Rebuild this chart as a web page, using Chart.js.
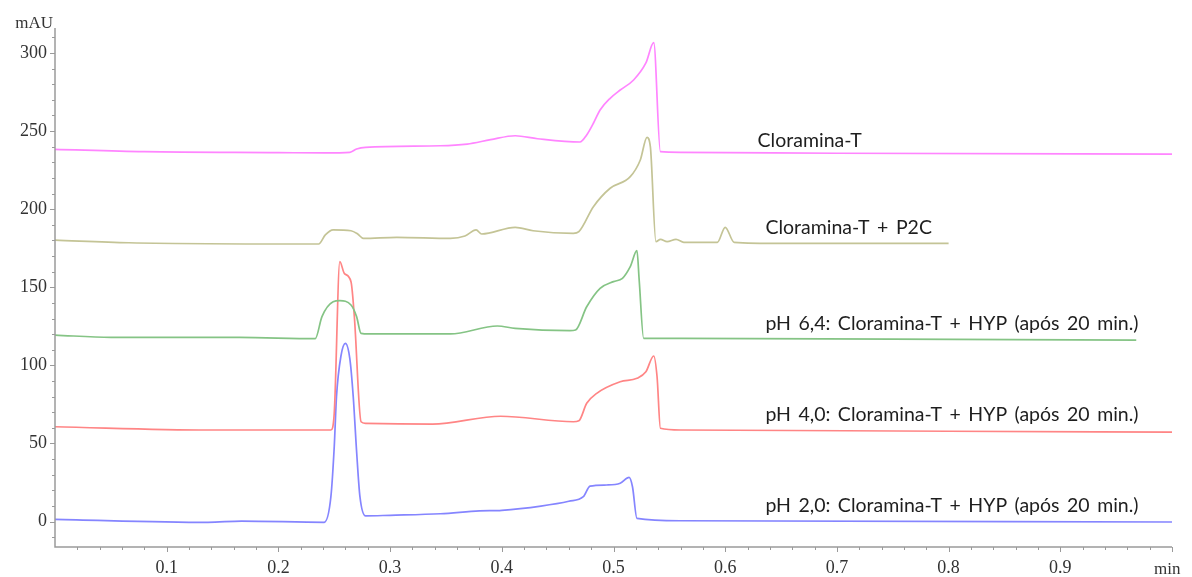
<!DOCTYPE html>
<html>
<head>
<meta charset="utf-8">
<script src="https://cdn.jsdelivr.net/npm/chart.js@4"></script>
<style>
  html, body { margin: 0; padding: 0; background: #ffffff; }
  #wrap { width: 1192px; height: 577px; }
</style>
</head>
<body>
<div id="wrap"><canvas id="c" width="1192" height="577"></canvas></div>
<script>
// Chromatogram traces: [time (min), absorbance (mAU)]
const cloraminaT = [
  [0, 238.3], [0.08, 236.8], [0.2, 236.2], [0.242, 236.0], [0.264, 236.4], [0.27, 238.5],
  [0.278, 239.6], [0.345, 240.6], [0.369, 241.7], [0.39, 244.5], [0.412, 247.0], [0.432, 245.1],
  [0.47, 243.0], [0.476, 247.5], [0.482, 255.0], [0.488, 263.5], [0.497, 271.0], [0.506, 276.3],
  [0.518, 282.7], [0.529, 293.6], [0.536, 306.6], [0.542, 236.8], [0.56, 236.4], [0.7, 235.8],
  [1.0, 235.3]
];
const cloraminaP2C = [
  [0, 180.2], [0.066, 178.5], [0.236, 177.7], [0.242, 183.5], [0.249, 186.7], [0.265, 186.2],
  [0.271, 184.1], [0.276, 181.3], [0.306, 182.0], [0.354, 181.3], [0.367, 182.8], [0.377, 186.7],
  [0.382, 184.1], [0.412, 188.4], [0.428, 186.2], [0.464, 184.5], [0.469, 185.6], [0.482, 201.6],
  [0.497, 213.4], [0.515, 220.8], [0.524, 231.5], [0.530, 246.0], [0.533, 240.0], [0.538, 179.2],
  [0.542, 180.7], [0.548, 179.2], [0.556, 180.7], [0.563, 178.8], [0.593, 178.8], [0.6, 188.4],
  [0.608, 178.8], [0.65, 178.1], [0.8, 178.1]
];
const hypPH64 = [
  [0, 119.4], [0.05, 117.9], [0.165, 117.9], [0.233, 117.1], [0.239, 131.2], [0.249, 140.7],
  [0.255, 141.4], [0.265, 138.6], [0.27, 131.2], [0.274, 120.5], [0.281, 120.1], [0.354, 120.1],
  [0.396, 125.2], [0.412, 123.7], [0.461, 122.2], [0.466, 122.6], [0.476, 137.5], [0.488, 149.3],
  [0.5, 153.6], [0.508, 155.7], [0.515, 163.2], [0.521, 173.4], [0.523, 154.6], [0.527, 117.3],
  [0.56, 117.3], [0.75, 116.8], [0.968, 116.2]
];
const hypPH40 = [
  [0, 60.7], [0.137, 58.6], [0.247, 58.6], [0.25, 69.5], [0.255, 166.4], [0.259, 158.9],
  [0.265, 153.6], [0.268, 131.1], [0.274, 63.9], [0.278, 62.9], [0.338, 62.4], [0.399, 67.4],
  [0.464, 63.9], [0.469, 64.5], [0.476, 75.7], [0.485, 82.1], [0.506, 89.5], [0.521, 91.7],
  [0.529, 95.9], [0.536, 106.0], [0.539, 92.7], [0.542, 59.7], [0.56, 58.6], [0.8, 57.8],
  [1.0, 57.3]
];
const hypPH20 = [
  [0, 1.4], [0.137, -0.5], [0.167, 0.3], [0.241, -0.5], [0.247, 15.9], [0.25, 48.0],
  [0.252, 79.9], [0.256, 106.0], [0.26, 114.1], [0.264, 104.0], [0.267, 79.9], [0.27, 45.0],
  [0.273, 15.9], [0.278, 3.6], [0.3, 4.0], [0.345, 5.0], [0.38, 6.8], [0.4, 7.2], [0.435, 9.9],
  [0.46, 13.0], [0.473, 15.9], [0.479, 22.7], [0.494, 23.4], [0.506, 24.5], [0.514, 28.3],
  [0.517, 22.3], [0.521, 2.0], [0.56, 0.5], [1.0, -0.3]
];

const seriesNames = [
  'Cloramina-T',
  'Cloramina-T + P2C',
  'pH 6,4: Cloramina-T + HYP (após 20 min.)',
  'pH 4,0: Cloramina-T + HYP (após 20 min.)',
  'pH 2,0: Cloramina-T + HYP (após 20 min.)'
];
const xTickLabels = [0.1, 0.2, 0.3, 0.4, 0.5, 0.6, 0.7, 0.8, 0.9];
const yTickLabels = [0, 50, 100, 150, 200, 250, 300];

const seriesData = [cloraminaT, cloraminaP2C, hypPH64, hypPH40, hypPH20];
const seriesColors = ['#ff85ff', '#c4c496', '#85c485', '#ff8585', '#8585ff'];
// where each trace name is written, in (min, mAU)
const nameAnchors = [[0.629, 243.6], [0.636, 187.9], [0.636, 126.5], [0.636, 68.2], [0.636, 9.9]];

const serif = "'Liberation Serif', 'DejaVu Serif', serif";
const sans = "Lato, 'Open Sans', sans-serif";
const axisColor = '#9a9a9a';

const axesAndNames = {
  id: 'axesAndNames',
  afterDraw(chart) {
    const ctx = chart.ctx;
    const xs = chart.scales.x, ys = chart.scales.y;
    const { left, right, top, bottom } = chart.chartArea;
    ctx.save();
    // axis lines
    ctx.strokeStyle = axisColor;
    ctx.lineWidth = 1.5;
    ctx.beginPath();
    ctx.moveTo(left, top);
    ctx.lineTo(left, bottom);
    ctx.lineTo(right, bottom);
    ctx.stroke();
    // tick marks (minor every 0.02 min / 10 mAU)
    ctx.lineWidth = 1;
    ctx.beginPath();
    for (let i = 1; i <= 50; i++) {
      const v = i * 0.02;
      const px = Math.round(xs.getPixelForValue(v)) + 0.5;
      const len = (i % 5 === 0) ? 5 : 3;
      ctx.moveTo(px, bottom);
      ctx.lineTo(px, bottom + len);
    }
    for (let v = -10; v <= 310; v += 10) {
      const py = Math.round(ys.getPixelForValue(v)) + 0.5;
      const len = (v % 50 === 0) ? 5 : 3;
      ctx.moveTo(left, py);
      ctx.lineTo(left - len, py);
    }
    ctx.stroke();
    // axis units
    ctx.fillStyle = '#333333';
    ctx.font = '17px ' + serif;
    ctx.textAlign = 'right';
    ctx.textBaseline = 'alphabetic';
    ctx.fillText('mAU', 53, 28);
    ctx.textAlign = 'left';
    ctx.fillText('min', 1154, 574);
    // trace names
    ctx.fillStyle = '#1e1e1e';
    ctx.font = '19.5px ' + sans;
    if ('wordSpacing' in ctx) ctx.wordSpacing = '2.5px';
    ctx.textBaseline = 'middle';
    seriesNames.forEach((name, i) => {
      const [t, a] = nameAnchors[i];
      ctx.fillText(name, xs.getPixelForValue(t), ys.getPixelForValue(a));
    });
    ctx.restore();
  }
};

new Chart(document.getElementById('c'), {
  type: 'line',
  data: {
    datasets: seriesData.map((d, i) => ({
      label: seriesNames[i],
      data: d.map(([x, y]) => ({ x, y })),
      borderColor: seriesColors[i],
      borderWidth: 1.7,
      pointRadius: 0,
      fill: false,
      cubicInterpolationMode: 'monotone'
    }))
  },
  options: {
    responsive: false,
    animation: false,
    devicePixelRatio: 1,
    layout: { padding: { top: 28, right: 20, left: 0, bottom: 0 } },
    plugins: { legend: { display: false }, tooltip: { enabled: false } },
    scales: {
      x: {
        type: 'linear',
        min: 0,
        max: 1.0,
        grid: { display: false, drawTicks: false },
        border: { display: false },
        afterBuildTicks: (s) => { s.ticks = xTickLabels.map(v => ({ value: v })); },
        afterFit: (s) => { s.height = 30; },
        ticks: {
          autoSkip: false,
          maxRotation: 0,
          padding: 10,
          color: '#333333',
          font: { family: serif, size: 18 },
          callback: (v) => String(Math.round(v * 10) / 10)
        }
      },
      y: {
        type: 'linear',
        min: -16.3,
        max: 316,
        grid: { display: false, drawTicks: false },
        border: { display: false },
        afterBuildTicks: (s) => { s.ticks = yTickLabels.map(v => ({ value: v })); },
        afterFit: (s) => { s.width = 55; },
        ticks: {
          autoSkip: false,
          padding: 8,
          color: '#333333',
          font: { family: serif, size: 18 },
          callback: (v) => String(v)
        }
      }
    }
  },
  plugins: [axesAndNames]
});
</script>
</body>
</html>
